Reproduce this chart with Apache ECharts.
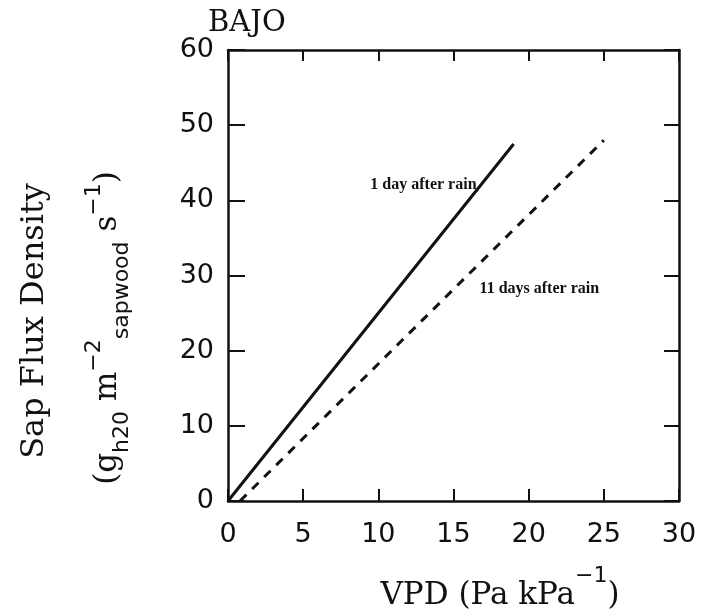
<!DOCTYPE html>
<html lang="en">
<head>
    <meta charset="UTF-8">
    <title>BAJO sap flux vs VPD</title>
    <script src="https://cdn.jsdelivr.net/npm/echarts@6.0.0/dist/echarts.min.js"></script>
    <style>
        body {
            margin: 0;
            background-color: #fff;
        }
        #chart {
            width: 723px;
            height: 610px;
        }
    </style>
</head>
<body>
    <div id="chart"></div>

    <script>
        // values
        const solidVpd = [0, 19.0];
        const solidFlux = [0, 47.5];
        const dashVpd = [0.8, 25.0];
        const dashFlux = [0, 48.0];

        const seriesNames = ['1 day after rain', '11 days after rain'];
        // where each line label sits (data coords)
        const labelVpd = [16.8, 16.6];
        const labelFlux = [42.0, 28.2];

        const ink = '#111';
        const serifFont = "'DejaVu Serif', serif";
        const sans = "'DejaVu Sans', sans-serif";

        function pairs(xs, ys) {
            return xs.map((x, i) => [x, ys[i]]);
        }

        const chart = echarts.init(document.getElementById('chart'));

        const frameLine = { show: true, onZero: false, lineStyle: { color: ink, width: 2.5 } };

        const option = {
            animation: false,
            backgroundColor: '#fff',
            grid: {
                left: 228, right: 44, top: 50, bottom: 109,
                containLabel: false,
                outerBoundsMode: 'none'
            },
            xAxis: [
                {
                    type: 'value', min: 0, max: 30, interval: 5, position: 'bottom',
                    axisLine: frameLine,
                    axisTick: { show: true, inside: true, length: 12, lineStyle: { color: ink, width: 2 } },
                    axisLabel: { color: ink, fontFamily: sans, fontSize: 27, margin: 20 },
                    splitLine: { show: false }
                },
                {
                    type: 'value', min: 0, max: 30, interval: 5, position: 'top',
                    axisLine: frameLine,
                    axisTick: { show: true, inside: true, length: 11, lineStyle: { color: ink, width: 2 } },
                    axisLabel: { show: false },
                    splitLine: { show: false }
                }
            ],
            yAxis: [
                {
                    type: 'value', min: 0, max: 60, interval: 10, position: 'left',
                    axisLine: frameLine,
                    axisTick: { show: true, inside: true, length: 17, lineStyle: { color: ink, width: 2 } },
                    axisLabel: { color: ink, fontFamily: sans, fontSize: 27, margin: 14 },
                    splitLine: { show: false }
                },
                {
                    type: 'value', min: 0, max: 60, interval: 10, position: 'right',
                    axisLine: frameLine,
                    axisTick: { show: true, inside: true, length: 15, lineStyle: { color: ink, width: 2 } },
                    axisLabel: { show: false },
                    splitLine: { show: false }
                }
            ],
            series: [
                {
                    name: seriesNames[0],
                    type: 'line',
                    data: pairs(solidVpd, solidFlux),
                    symbol: 'none',
                    lineStyle: { color: ink, width: 3 },
                    markPoint: {
                        symbol: 'circle', symbolSize: 0,
                        label: {
                            show: true, position: 'left', distance: 4,
                            formatter: seriesNames[0],
                            color: ink, fontFamily: "'Liberation Serif', serif",
                            fontWeight: 'bold', fontSize: 16
                        },
                        data: [{ coord: [labelVpd[0], labelFlux[0]] }]
                    }
                },
                {
                    name: seriesNames[1],
                    type: 'line',
                    data: pairs(dashVpd, dashFlux),
                    symbol: 'none',
                    lineStyle: { color: ink, width: 3, type: [9, 8] },
                    markPoint: {
                        symbol: 'circle', symbolSize: 0,
                        label: {
                            show: true, position: 'right', distance: 2,
                            formatter: seriesNames[1],
                            color: ink, fontFamily: "'Liberation Serif', serif",
                            fontWeight: 'bold', fontSize: 16
                        },
                        data: [{ coord: [labelVpd[1], labelFlux[1]] }]
                    }
                }
            ],
            graphic: [
                {
                    type: 'text', left: 208, top: 9,
                    style: { text: 'BAJO', font: '29px ' + serifFont, fill: ink }
                },
                {
                    type: 'text', x: 35, y: 321, rotation: Math.PI / 2,
                    style: {
                        text: 'Sap Flux Density', font: '32px ' + serifFont, fill: ink,
                        align: 'center', verticalAlign: 'middle'
                    }
                },
                {
                    type: 'text', x: 108, y: 328, rotation: Math.PI / 2,
                    style: {
                        text: '{t|(g}{sub|h20}{t| m}{sup|\u22122}{sub|sapwood}{t| s}{sup|\u22121}{t|)}',
                        align: 'center', verticalAlign: 'middle',
                        fill: ink,
                        rich: {
                            t: { fontFamily: serifFont, fontSize: 31, fill: ink, lineHeight: 50, verticalAlign: 'middle' },
                            sup: { fontFamily: sans, fontSize: 22, fill: ink, lineHeight: 50, verticalAlign: 'top' },
                            sub: { fontFamily: sans, fontSize: 22, fill: ink, lineHeight: 50, verticalAlign: 'bottom' }
                        }
                    }
                },
                {
                    type: 'text', x: 500, y: 588,
                    style: {
                        text: '{t|VPD (Pa kPa}{sup|\u22121}{t|)}',
                        align: 'center', verticalAlign: 'middle',
                        fill: ink,
                        rich: {
                            t: { fontFamily: serifFont, fontSize: 31, fill: ink, lineHeight: 46, verticalAlign: 'bottom' },
                            sup: { fontFamily: sans, fontSize: 22, fill: ink, lineHeight: 46, verticalAlign: 'top' }
                        }
                    }
                }
            ]
        };

        chart.setOption(option);
    </script>
</body>
</html>
